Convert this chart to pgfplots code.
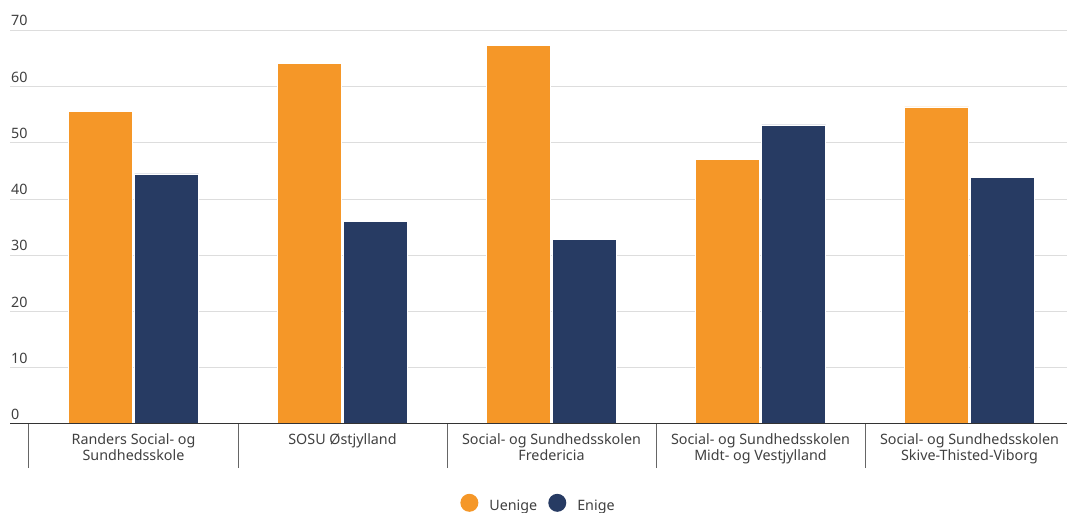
\documentclass[border=0pt]{standalone}
\usepackage{pgfplots}
\pgfplotsset{compat=1.18}
\usepackage{fontspec}
\setmainfont{Noto Sans}
\definecolor{cOrange}{HTML}{F59728}
\definecolor{cNavy}{HTML}{273B63}
\definecolor{cText}{HTML}{404040}
\definecolor{cGrid}{HTML}{DDDDDD}
\definecolor{cAxis}{HTML}{333333}
\definecolor{cTick}{HTML}{666666}
\begin{document}
\begin{tikzpicture}
\useasboundingbox (0,0) rectangle (1067pt,513pt);
\begin{axis}[
  at={(10pt,89pt)}, anchor=south west,
  scale only axis, width=1057pt, height=393.5pt,
  xmin=-0.5909, xmax=4.4665, ymin=0, ymax=70,
  ybar=2pt, bar width=64pt,
  axis line style={draw=none},
  ytick={0,10,...,70},
  ymajorgrids, grid style={cGrid, line width=1pt},
  ytick style={draw=none},
  /pgf/number format/assume math mode=true,
  yticklabel style={anchor=base west, inner sep=0pt, xshift=1pt, yshift=4.5pt,
    font=\fontsize{14.3}{16}\selectfont, text=cText},
  xtick={0,...,4},
  xticklabels={{Randers Social- og\\Sundhedsskole},{SOSU Østjylland},{Social- og Sundhedsskolen\\Fredericia},{Social- og Sundhedsskolen\\Midt- og Vestjylland},{Social- og Sundhedsskolen\\Skive-Thisted-Viborg}},
  xticklabel style={align=center, anchor=north, inner sep=0pt, yshift=-5.5pt,
    font=\fontsize{14.3}{15.6}\selectfont, text=cText},
  xtick style={draw=none},
  xtick pos=lower,
  extra x ticks={-0.5,0.5,1.5,2.5,3.5},
  extra x tick labels={},
  extra x tick style={xtick style={draw=cTick, line width=1pt}, major tick length=44pt, tick align=outside},
  legend style={at={(0.5,-0.2035)}, anchor=center, draw=none, fill=none,
    legend columns=-1, font=\fontsize{14.3}{16}\selectfont\color{cText},
    /tikz/every odd column/.append style={column sep=9pt},
    /tikz/every even column/.append style={column sep=9pt}},
  legend image code/.code={\fill[#1, draw=none] (9pt,0.35em) circle (9pt);},
]
\addplot[fill=cOrange, draw=white, line width=0.5pt] coordinates {(0,55.6) (1,64.1) (2,67.4) (3,47.1) (4,56.4)};
\addlegendentry{Uenige}
\addplot[fill=cNavy, draw=white, line width=0.5pt] coordinates {(0,44.5) (1,36.0) (2,32.8) (3,53.2) (4,43.9)};
\addlegendentry{Enige}
\draw[cAxis, line width=1.7pt] (rel axis cs:0,0) -- (rel axis cs:1,0);
\end{axis}
\end{tikzpicture}
\end{document}
